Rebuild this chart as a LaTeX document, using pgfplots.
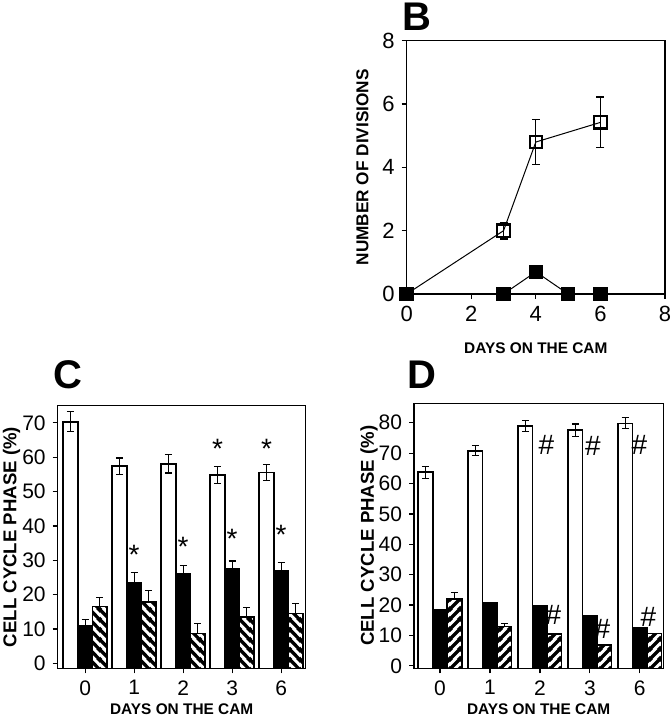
\documentclass[border=0pt]{standalone}
\usepackage{fontspec}
\setmainfont{Liberation Sans}
\usepackage{pgfplots}
\pgfplotsset{compat=1.18}
\usetikzlibrary{patterns.meta}

\tikzdeclarepattern{
  name=stripesNE, type=uncolored,
  bounding box={(0pt,0pt) and (5pt,5pt)},
  tile size={(5pt,5pt)},
  code={
    \draw[line width=1.8pt] (-1pt,-1pt) -- (6pt,6pt);
    \draw[line width=1.8pt] (-1pt,4pt) -- (1pt,6pt);
    \draw[line width=1.8pt] (4pt,-1pt) -- (6pt,1pt);
  }
}
\tikzdeclarepattern{
  name=stripesNW, type=uncolored,
  bounding box={(0pt,0pt) and (5pt,5pt)},
  tile size={(5pt,5pt)},
  code={
    \draw[line width=1.8pt] (-1pt,6pt) -- (6pt,-1pt);
    \draw[line width=1.8pt] (-1pt,1pt) -- (1pt,-1pt);
    \draw[line width=1.8pt] (4pt,6pt) -- (6pt,4pt);
  }
}

\pgfplotstableread{
x y e
0 70.3 2.9
1 57.4 2.4
2 58.1 2.7
3 54.8 2.4
4 55.6 2.3
}\Cwhite
\pgfplotstableread{
x y e
0 11.0 1.8
1 23.4 3.1
2 26.2 2.2
3 27.4 2.4
4 26.8 2.6
}\Cblack
\pgfplotstableread{
x y e
0 16.5 2.7
1 17.9 3.2
2 8.7 2.9
3 13.5 2.8
4 14.5 3.0
}\Chatch

\pgfplotstableread{
x y e
0 63.7 2.0
1 70.8 1.6
2 78.9 1.8
3 77.6 2.0
4 79.8 1.8
}\Dwhite
\pgfplotstableread{
x y e
0 18.4 0
1 20.6 0
2 19.8 0
3 16.4 0
4 12.6 0
}\Dblack
\pgfplotstableread{
x y e
0 22.0 2.2
1 13.0 1.0
2 10.5 0
3 6.9 0
4 10.6 0
}\Dhatch

\pgfplotsset{
  common/.style={
    scale only axis,
    tick align=outside,
    xtick pos=bottom, ytick pos=left,
    major tick length=2.5pt,
    axis line style={line width=0.6pt},
    every tick/.style={black, line width=0.6pt},
    /pgf/number format/assume math mode=true,
    tick label style={font=\fontsize{10.5}{10.5}\selectfont},
    xlabel style={font=\bfseries\fontsize{7.7}{8}\selectfont},
    ylabel style={font=\bfseries\fontsize{8.6}{9}\selectfont},
    clip=false,
  },
  errs/.style={
    error bars/.cd, y explicit, y dir=#1,
    error bar style={line width=0.6pt, black},
    error mark options={rotate=90, mark size=1.8pt, line width=0.6pt, black},
  },
}

\begin{document}
\begin{tikzpicture}
\useasboundingbox (0pt,0pt) rectangle (336pt,359.5pt);

% ---------- Panel B ----------
\begin{axis}[common,
  at={(203.35pt,212.5pt)}, anchor=south west,
  width=129.15pt, height=126.65pt,
  xmin=0, xmax=8, ymin=0, ymax=8,
  xtick={0,2,4,6,8}, ytick={0,2,4,6,8},
  tick label style={font=\fontsize{11}{11}\selectfont},
  xlabel={DAYS ON THE CAM},
  xlabel shift=3.5pt,
  ylabel={NUMBER OF DIVISIONS},
]
\addplot[black, line width=0.5pt, mark=square, mark size=3.1pt,
  mark options={fill=white, line width=1.1pt, solid},
  errs=both, error mark options={rotate=90, mark size=2pt, line width=0.6pt, black}]
  coordinates {(0,0) +- (0,0) (3,2.0) +- (0,0.26) (4,4.8) +- (0,0.72) (6,5.42) +- (0,0.8)};
\addplot[black, line width=0.5pt, mark=square*, mark size=3.4pt]
  coordinates {(0,0) (3,0) (4,0.7) (5,0) (6,0)};
\end{axis}

% ---------- Panel C ----------
\begin{axis}[common, ybar,
  at={(28.85pt,25.35pt)}, anchor=south west,
  width=124pt, height=131.3pt,
  xmin=-0.56, xmax=4.5,
  ymin=-1.45, ymax=75,
  y coord trafo/.code={\pgfmathparse{#1+1.45}},
  y coord inv trafo/.code={\pgfmathparse{#1-1.45}},
  ytick={0,10,20,30,40,50,60,70},
  yticklabels={0,10,20,30,40,50,60,70},
  xtick={0,1,2,3,4}, xticklabels={0,1,2,3,6},
  xlabel={DAYS ON THE CAM},
  xlabel shift=-2.5pt,
  ylabel={CELL CYCLE PHASE (\%)},
  ylabel style={font=\bfseries\fontsize{9.3}{9.5}\selectfont},
  ylabel shift=-5.8pt,
]
\addplot[bar width=0.3, bar shift=-0.3, fill=white, draw=black, line width=0.8pt, errs=both]
  table[x=x, y=y, y error=e] {\Cwhite};
\addplot[bar width=0.3, bar shift=0, fill=black, draw=black, line width=0.8pt, errs=plus]
  table[x=x, y=y, y error=e] {\Cblack};
\addplot[bar width=0.3, bar shift=0.3, pattern={stripesNW}, pattern color=black, draw=black, line width=0.8pt, errs=plus]
  table[x=x, y=y, y error=e] {\Chatch};
\begin{scope}[font=\fontsize{14}{14}\selectfont]
\node at (axis cs:2.7,62.5) {*};
\node at (axis cs:3.7,62.5) {*};
\node at (axis cs:1,31.5) {*};
\node at (axis cs:2,33.8) {*};
\node at (axis cs:3,36.2) {*};
\node at (axis cs:4,37.5) {*};
\end{scope}
\end{axis}

% ---------- Panel D ----------
\begin{axis}[common, ybar,
  at={(207pt,25.35pt)}, anchor=south west,
  width=124.65pt, height=132.5pt,
  xmin=-0.52, xmax=4.47,
  ymin=-0.8, ymax=86.4,
  y coord trafo/.code={\pgfmathparse{#1+0.8}},
  y coord inv trafo/.code={\pgfmathparse{#1-0.8}},
  ytick={0,10,20,30,40,50,60,70,80},
  yticklabels={0,10,20,30,40,50,60,70,80},
  xtick={0,1,2,3,4}, xticklabels={0,1,2,3,6},
  xlabel={DAYS ON THE CAM},
  xlabel shift=-2.5pt,
  ylabel={CELL CYCLE PHASE (\%)},
  ylabel style={font=\bfseries\fontsize{9.3}{9.5}\selectfont},
  ylabel shift=-6.5pt,
]
\addplot[bar width=0.29, bar shift=-0.29, fill=white, draw=black, line width=0.8pt, errs=both]
  table[x=x, y=y, y error=e] {\Dwhite};
\addplot[bar width=0.29, bar shift=0, fill=black, draw=black, line width=0.8pt]
  table[x=x, y=y] {\Dblack};
\addplot[bar width=0.29, bar shift=0.29, pattern={stripesNE}, pattern color=black, draw=black, line width=0.8pt, errs=plus]
  table[x=x, y=y, y error=e] {\Dhatch};
\begin{scope}[font=\fontsize{14}{14}\selectfont]
\node at (axis cs:2.13,72.7) {\#};
\node at (axis cs:3.06,72.3) {\#};
\node at (axis cs:3.99,72.7) {\#};
\node at (axis cs:2.27,16.8) {\#};
\node at (axis cs:3.25,12.0) {\#};
\node at (axis cs:4.17,16.2) {\#};
\end{scope}
\end{axis}

% panel letters
\node[font=\bfseries\fontsize{20}{20}\selectfont] at (208.3pt,351pt) {B};
\node[font=\bfseries\fontsize{20}{20}\selectfont] at (34.2pt,172pt) {C};
\node[font=\bfseries\fontsize{20}{20}\selectfont] at (210.8pt,172pt) {D};
\end{tikzpicture}
\end{document}
